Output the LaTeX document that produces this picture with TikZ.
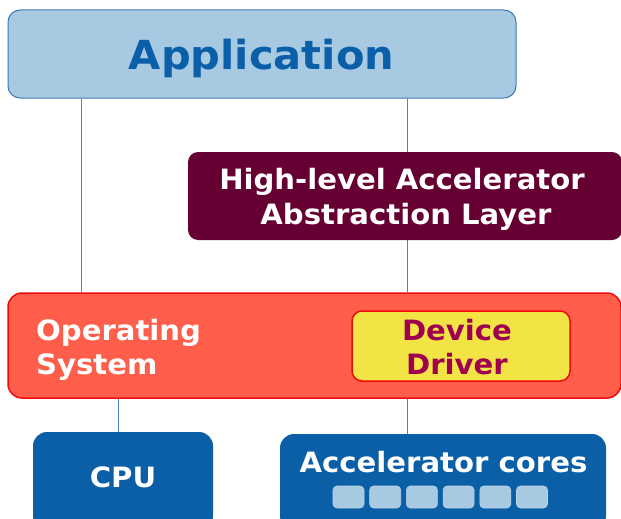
\documentclass[tikz,border=0pt]{standalone}
\usepackage{fontspec}
\setmainfont{DejaVu Sans}[FakeStretch=1.04]
\usetikzlibrary{backgrounds}
\definecolor{appfill}{RGB}{167,202,226}
\definecolor{appdraw}{RGB}{60,120,185}
\definecolor{apptext}{RGB}{11,94,168}
\definecolor{hlaalfill}{RGB}{102,0,51}
\definecolor{osfill}{RGB}{255,95,74}
\definecolor{osdraw}{RGB}{240,10,10}
\definecolor{ddfill}{RGB}{242,228,68}
\definecolor{ddtext}{RGB}{160,0,80}
\definecolor{hwfill}{RGB}{11,95,166}
\definecolor{corefill}{RGB}{167,202,226}
\definecolor{linkcol}{RGB}{80,130,190}
\begin{document}
\begin{tikzpicture}[x=1pt,y=-1pt,
  box/.style={rectangle, inner sep=0pt},
  appbox/.style={box, fill=appfill, draw=appdraw, line width=1pt, rounded corners=12pt},
  hlaalbox/.style={box, fill=hlaalfill, rounded corners=10pt},
  osbox/.style={box, fill=osfill, draw=osdraw, line width=1.5pt, rounded corners=14pt},
  ddbox/.style={box, fill=ddfill, draw=osdraw, line width=1.5pt, rounded corners=10pt},
  hwbox/.style={box, fill=hwfill, rounded corners=14pt},
  corebox/.style={box, fill=corefill, draw=corefill!80!white, line width=0.6pt, rounded corners=4pt, minimum width=31pt, minimum height=22pt},
  txt/.style={inner sep=0pt, anchor=base, font=\fontsize{28}{34}\selectfont\bfseries},
  link/.style={draw=linkcol, line width=1pt}]
\useasboundingbox (0,0) rectangle (621,519);
% boxes
\node[appbox, minimum width=508pt, minimum height=88pt] (app) at (262,54) {};
\node[hlaalbox, minimum width=434pt, minimum height=88pt] (hlaal) at (405,196) {};
\node[osbox, minimum width=613pt, minimum height=105pt] (os) at (314.5,345.5) {};
\node[ddbox, minimum width=218pt, minimum height=70pt] (dd) at (461,346) {};
\node[hwbox, minimum width=180pt, minimum height=98pt] (cpu) at (123,481) {};
\node[hwbox, minimum width=326pt, minimum height=96pt] (acc) at (443,482) {};
\foreach \i in {0,...,5} {
  \node[corebox] (core\i) at (348.5+36.7*\i,497) {};
}
% texts
\node[txt, text=apptext, font=\fontsize{40}{48}\selectfont\bfseries] (apptxt) at (261.5,70) {Application};
\node[txt, text=white] (hlaaltxt1) at (402,189) {High-level Accelerator};
\node[txt, text=white] (hlaaltxt2) at (406,224) {Abstraction Layer};
\node[txt, text=white, anchor=base west] (ostxt1) at (36,340) {Operating};
\node[txt, text=white, anchor=base west] (ostxt2) at (36,374) {System};
\node[txt, text=ddtext] (ddtxt1) at (457,340) {Device};
\node[txt, text=ddtext] (ddtxt2) at (457,374) {Driver};
\node[txt, text=white] (cputxt) at (123,487) {CPU};
\node[txt, text=white] (acctxt) at (443.5,472) {Accelerator cores};
% connectors
\coordinate (xa) at (81,0);
\coordinate (xb) at (407,0);
\coordinate (xc) at (118,0);
\begin{scope}[on background layer]
\draw[link] (app.south -| xa) -- (os.north -| xa);
\draw[link] (app.south -| xb) -- (os.north -| xb);
\draw[link] (os.south -| xc) -- (cpu.north -| xc);
\draw[link] (os.south -| xb) -- (acc.north -| xb);
\end{scope}
\end{tikzpicture}
\end{document}
